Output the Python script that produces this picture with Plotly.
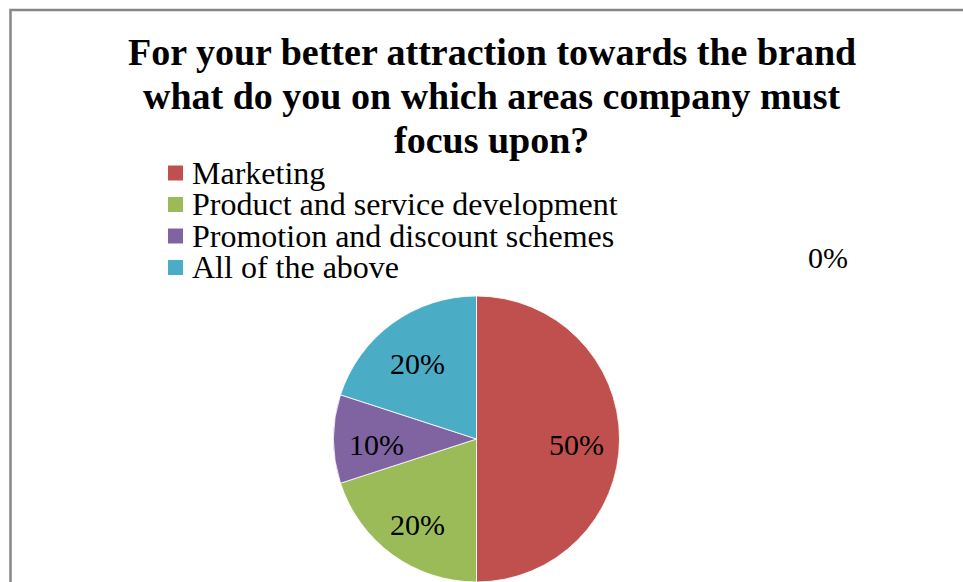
import math
import plotly.graph_objects as go

# Survey answers and their shares (percent)
categories = ["Marketing", "Product and service development",
              "Promotion and discount schemes", "All of the above"]
shares = [50, 20, 10, 20]
colors = ["#C0504D", "#9BBB59", "#8064A2", "#4BACC6"]
# a further answer option that received no votes
unnamed_share = 0

title_lines = ["For your better attraction towards the brand",
               "what do you on which areas company must",
               "focus upon?"]

W, H = 963, 582
SERIF = "Liberation Serif, Times New Roman, serif"


def px(x):
    return x / W


def py(y):
    return 1 - y / H


# pie placement in pixels
cx, cy, r = 476.5, 439.0, 143.0

fig = go.Figure()
fig.add_trace(go.Pie(
    labels=categories,
    values=shares,
    sort=False,
    direction="clockwise",
    rotation=0,
    marker=dict(colors=colors, line=dict(color="#FFFFFF", width=0.8)),
    textinfo="none",
    hoverinfo="label+percent",
    showlegend=False,
    domain=dict(x=[px(cx - r), px(cx + r)], y=[py(cy + r), py(cy - r)]),
))

annotations = []

# percentage labels placed at the middle angle of each slice
total = sum(shares) + unnamed_share
cum = 0.0
for v in shares:
    mid = (cum + v / 2) / total * 2 * math.pi
    cum += v
    lx = cx + 0.7 * r * math.sin(mid)
    ly = cy - 0.7 * r * math.cos(mid) + 5
    annotations.append(dict(
        x=px(lx), y=py(ly), xref="paper", yref="paper",
        text=f"{round(v / total * 100)}%", showarrow=False,
        xanchor="center", yanchor="middle",
        font=dict(family=SERIF, size=30, color="#000000"),
    ))

annotations.append(dict(
    x=px(828), y=py(257), xref="paper", yref="paper",
    text=f"{round(unnamed_share / total * 100)}%", showarrow=False,
    xanchor="center", yanchor="middle",
    font=dict(family=SERIF, size=30, color="#000000"),
))

# title, one annotation per line
for i, line in enumerate(title_lines):
    annotations.append(dict(
        x=px(492), y=py(52 + i * 44), xref="paper", yref="paper",
        text=line, showarrow=False,
        xanchor="center", yanchor="middle", align="center",
        font=dict(family=SERIF, size=38, color="#000000", weight="bold"),
    ))

# legend: coloured squares with labels
shapes = []
for i, (name, col) in enumerate(zip(categories, colors)):
    yc = 173 + i * 31.5
    shapes.append(dict(
        type="rect", xref="paper", yref="paper",
        x0=px(168), x1=px(183), y0=py(yc + 7.5), y1=py(yc - 7.5),
        fillcolor=col, line=dict(width=0),
    ))
    annotations.append(dict(
        x=px(190), y=py(yc), xref="paper", yref="paper",
        text=name, showarrow=False, xanchor="left", yanchor="middle",
        font=dict(family=SERIF, size=32, color="#000000"),
    ))

# chart area frame
shapes.append(dict(
    type="rect", xref="paper", yref="paper",
    x0=px(10.5), x1=px(W + 20), y0=py(H + 20), y1=py(10),
    line=dict(color="#878787", width=2.5), fillcolor="rgba(0,0,0,0)",
))

fig.update_layout(
    width=W, height=H,
    margin=dict(l=0, r=0, t=0, b=0),
    paper_bgcolor="#FFFFFF", plot_bgcolor="#FFFFFF",
    annotations=annotations, shapes=shapes,
)

fig.write_html("out.html")
